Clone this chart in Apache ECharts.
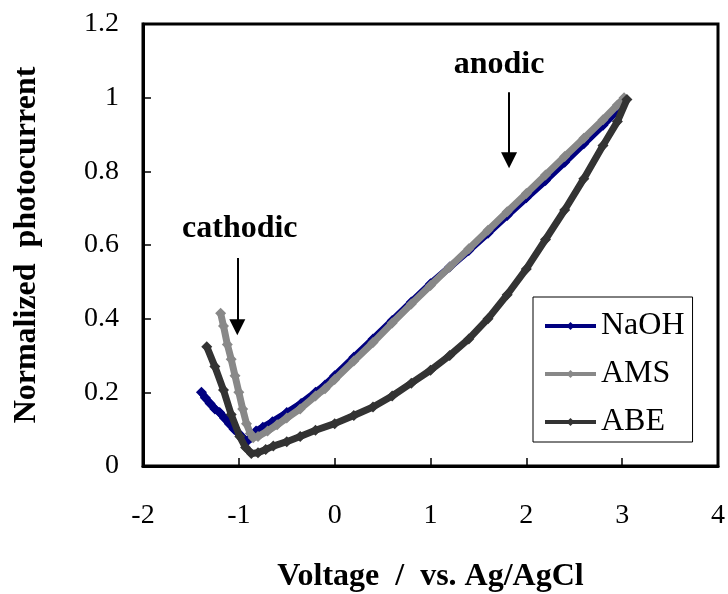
<!DOCTYPE html>
<html>
<head>
<meta charset="utf-8">
<script src="https://cdn.jsdelivr.net/npm/echarts@6/dist/echarts.min.js"></script>
<style>
html,body{margin:0;padding:0;background:#fff}
#main{width:728px;height:594px}
</style>
</head>
<body>
<div id="main"></div>
<script>
// normalized photocurrent vs voltage (V vs Ag/AgCl)
var naoh = [
  [-1.39,0.200],[-1.35,0.185],[-1.30,0.170],[-1.25,0.155],[-1.20,0.145],[-1.15,0.130],
  [-1.10,0.115],[-1.05,0.100],[-1.00,0.088],[-0.95,0.075],[-0.91,0.068],[-0.87,0.078],
  [-0.82,0.095],[-0.75,0.105],[-0.65,0.120],[-0.50,0.145],[-0.35,0.170],[-0.20,0.200],
  [-0.10,0.220],[0.00,0.245],[0.20,0.295],[0.40,0.345],[0.60,0.395],[0.80,0.445],
  [1.00,0.495],[1.20,0.540],[1.40,0.585],[1.60,0.632],[1.80,0.680],[2.00,0.728],
  [2.20,0.775],[2.40,0.825],[2.60,0.875],[2.80,0.925],[2.95,0.965],[3.02,0.995]
];
var ams = [
  [-1.19,0.415],[-1.16,0.380],[-1.12,0.330],[-1.08,0.290],[-1.04,0.245],[-1.00,0.200],
  [-0.96,0.155],[-0.92,0.115],[-0.88,0.088],[-0.85,0.077],[-0.80,0.080],[-0.70,0.095],
  [-0.60,0.112],[-0.50,0.130],[-0.36,0.155],[-0.20,0.190],[-0.10,0.210],[0.00,0.235],
  [0.20,0.285],[0.40,0.335],[0.60,0.388],[0.80,0.440],[1.00,0.490],[1.20,0.540],
  [1.40,0.590],[1.60,0.640],[1.80,0.690],[2.00,0.740],[2.20,0.790],[2.40,0.840],
  [2.60,0.890],[2.80,0.940],[2.95,0.980],[3.02,1.000]
];
var abe = [
  [-1.335,0.324],[-1.25,0.270],[-1.16,0.206],[-1.08,0.140],[-0.99,0.080],[-0.93,0.050],
  [-0.87,0.034],[-0.80,0.036],[-0.72,0.045],[-0.64,0.054],[-0.50,0.066],[-0.36,0.080],
  [-0.20,0.097],[0.00,0.115],[0.20,0.137],[0.40,0.160],[0.60,0.190],[0.80,0.225],
  [1.00,0.260],[1.20,0.300],[1.40,0.345],[1.60,0.400],[1.80,0.465],[2.00,0.535],
  [2.20,0.615],[2.40,0.695],[2.60,0.780],[2.80,0.870],[2.95,0.935],[3.05,0.995]
];
var seriesNames = ['NaOH','AMS','ABE'];
var seriesData = [naoh, ams, abe];
var seriesColors = ['#000080','#888888','#333333'];

// annotations: text centre and arrow [x, yTop, yEnd] in data units
var notes = [
  {text:'anodic', x:1.715, y:1.089},
  {text:'cathodic', x:-0.99, y:0.643}
];
var arrows = [[1.82,1.015,0.83],[-1.016,0.565,0.377]];

var serif = "'Liberation Serif','Times New Roman',serif";
var myChart = echarts.init(document.getElementById('main'));

var series = seriesNames.map(function(n,i){
  return {
    name: n,
    type: 'line',
    data: seriesData[i],
    symbol: 'diamond',
    symbolSize: 11,
    showSymbol: true,
    lineStyle: {color: seriesColors[i], width: 7},
    itemStyle: {color: seriesColors[i]},
    z: 2 + i
  };
});
series[0].markLine = {
  silent: true,
  symbol: ['none','triangle'],
  symbolSize: [16,16],
  label: {show:false},
  lineStyle: {color:'#000', width:2, type:'solid'},
  data: arrows.map(function(a){
    return [{coord:[a[0],a[1]]},{coord:[a[0],a[2]]}];
  })
};

var option = {
  animation: false,
  backgroundColor: '#fff',
  grid: {
    left: 143, right: 10, top: 24, bottom: 128,
    outerBoundsMode: 'none',
    containLabel: false,
    show: true, borderColor: '#000', borderWidth: 3
  },
  legend: {
    data: seriesNames,
    orient: 'vertical',
    left: 533, top: 297,
    padding: [13,8,4,10],
    itemGap: 16,
    itemWidth: 51,
    itemHeight: 10,
    backgroundColor: '#fff',
    borderColor: '#000',
    borderWidth: 1,
    lineStyle: {width: 4},
    textStyle: {fontSize: 32, lineHeight: 32, fontFamily: serif, color: '#000'}
  },
  xAxis: {
    type: 'value',
    min: -2, max: 4, interval: 1,
    name: 'Voltage  /  vs. Ag/AgCl',
    nameLocation: 'middle',
    nameGap: 95,
    nameTextStyle: {fontSize: 32, fontWeight: 'bold', fontFamily: serif, color: '#000'},
    axisLine: {onZero: false, lineStyle: {color:'#000', width:3}},
    axisTick: {inside: true, length: 8, lineStyle: {color:'#000', width:1.5}},
    axisLabel: {fontSize: 28, fontFamily: serif, color: '#000', margin: 36},
    splitLine: {show: false}
  },
  yAxis: {
    type: 'value',
    min: 0, max: 1.2, interval: 0.2,
    name: 'Normalized  photocurrent',
    nameLocation: 'middle',
    nameGap: 100,
    nameTextStyle: {fontSize: 32, fontWeight: 'bold', fontFamily: serif, color: '#000'},
    axisLine: {onZero: false, lineStyle: {color:'#000', width:3}},
    axisTick: {inside: true, length: 8, lineStyle: {color:'#000', width:1.5}},
    axisLabel: {fontSize: 28, fontFamily: serif, color: '#000', margin: 24},
    splitLine: {show: false}
  },
  series: series
};
myChart.setOption(option);

myChart.setOption({
  graphic: notes.map(function(n){
    var p = myChart.convertToPixel({gridIndex:0},[n.x,n.y]);
    return {
      type: 'text', x: p[0], y: p[1], z: 100,
      style: {
        text: n.text, fill: '#000',
        fontSize: 32, fontWeight: 'bold', fontFamily: serif,
        textAlign: 'center', textVerticalAlign: 'middle',
        align: 'center', verticalAlign: 'middle'
      }
    };
  })
});
</script>
</body>
</html>
